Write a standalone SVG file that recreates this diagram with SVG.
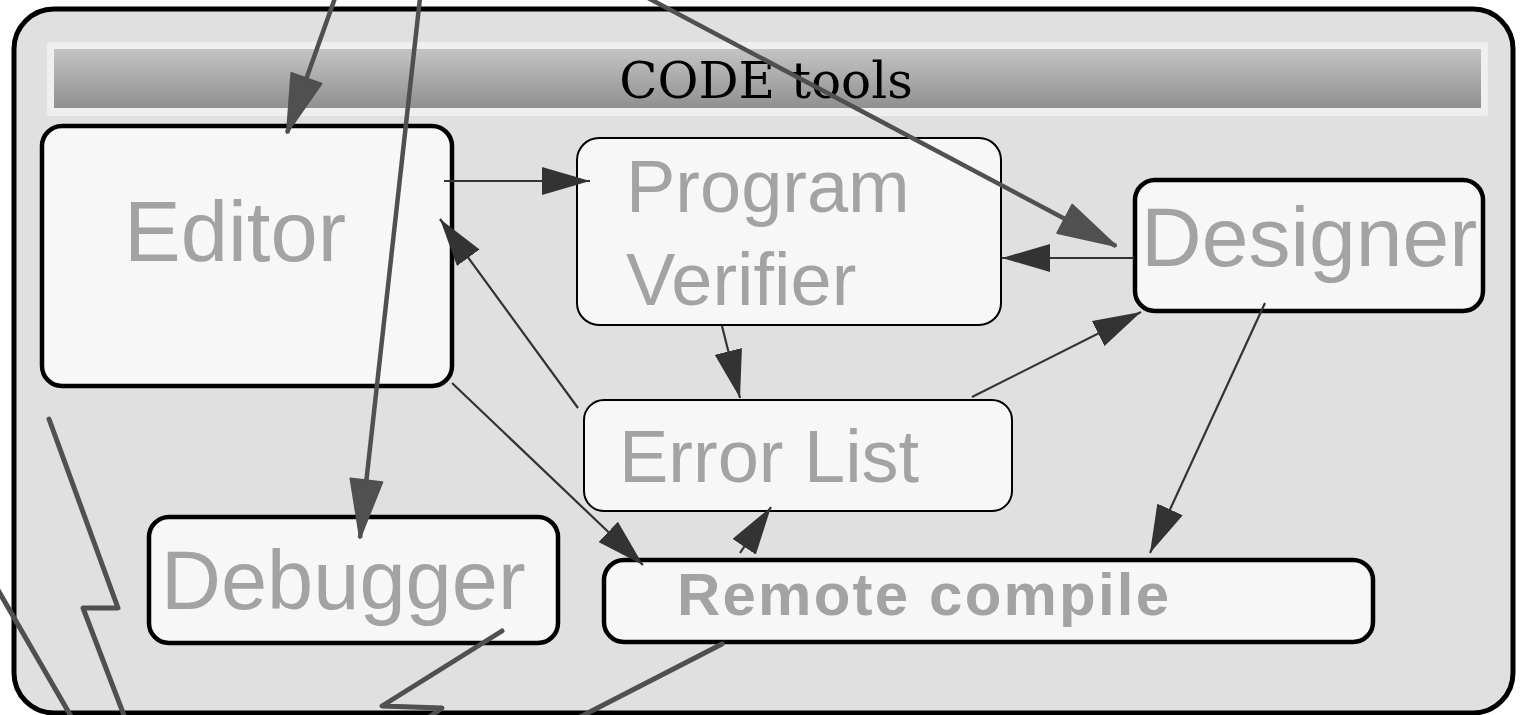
<svg xmlns="http://www.w3.org/2000/svg" width="1523" height="715" viewBox="0 0 1523 715">
<defs>
<linearGradient id="tg" x1="0" y1="0" x2="0" y2="1">
<stop offset="0" stop-color="#c4c4c4"/>
<stop offset="1" stop-color="#909090"/>
</linearGradient>
<marker id="ah" markerUnits="userSpaceOnUse" viewBox="0 0 48 28" markerWidth="48" markerHeight="28" refX="48" refY="14" orient="auto">
<path d="M0,0 L48,14 L0,28 z" fill="#333333"/>
</marker>
<marker id="ahb" markerUnits="userSpaceOnUse" viewBox="-2 -2 62 36" markerWidth="62" markerHeight="36" refX="58" refY="16" orient="auto">
<path d="M0,0 L58,16 L0,32 z" fill="#505050" stroke="#505050" stroke-width="2" stroke-linejoin="round"/>
</marker>
<style>
.node{fill:#f7f7f7;stroke:#000;}
.thick{stroke-width:4.5;}
.thin{stroke-width:2;}
.lbl{font-family:"Liberation Sans",Arial,sans-serif;fill:#a3a3a3;}
.c{stroke:#333333;stroke-width:2.2;fill:none;marker-end:url(#ah);}
.cb{stroke:#505050;stroke-width:4.5;fill:none;marker-end:url(#ahb);}
.z{stroke:#505050;stroke-width:5;fill:none;stroke-linecap:round;stroke-linejoin:round;}
</style>
</defs>
<rect x="0" y="0" width="1523" height="715" fill="#ffffff"/>
<g id="container">
<rect x="14" y="9" width="1499" height="704" rx="40" fill="#e0e0e0" stroke="#000" stroke-width="5"/>
<rect x="47" y="42" width="1441" height="74" rx="3" fill="#efefef"/>
<rect x="54" y="49" width="1427" height="59" fill="url(#tg)"/>
<text x="766" y="98" text-anchor="middle" font-family="'DejaVu Serif',serif" font-size="50" fill="#000">CODE tools</text>
</g>
<g id="editor">
<rect class="node thick" x="42" y="126" width="410" height="260" rx="20"/>
<text class="lbl" x="124" y="261" font-size="85">Editor</text>
</g>
<g id="program-verifier">
<rect class="node thin" x="577" y="138" width="424" height="187" rx="22"/>
<text class="lbl" x="626" y="212" font-size="74">Program</text>
<text class="lbl" x="626" y="305" font-size="74">Verifier</text>
</g>
<g id="designer">
<rect class="node thick" x="1135" y="180" width="348" height="131" rx="20"/>
<text class="lbl" x="1141" y="266" font-size="84">Designer</text>
</g>
<g id="error-list">
<rect class="node thin" x="584" y="400" width="428" height="111" rx="20"/>
<text class="lbl" x="619" y="482" font-size="74">Error List</text>
</g>
<g id="debugger">
<rect class="node thick" x="149" y="517" width="409" height="126" rx="20"/>
<text class="lbl" x="161" y="609" font-size="83">Debugger</text>
</g>
<g id="remote-compile">
<rect class="node thick" x="604" y="560" width="769" height="82" rx="20"/>
<text class="lbl" x="677" y="615" font-size="60" font-weight="bold" textLength="492" lengthAdjust="spacing">Remote compile</text>
</g>
<g id="connectors">
<line class="c" x1="444" y1="181" x2="590" y2="181"/>
<line class="c" x1="578" y1="408" x2="440" y2="219"/>
<line class="c" x1="1134" y1="258" x2="1002" y2="258"/>
<line class="c" x1="722" y1="326" x2="740" y2="398"/>
<line class="c" x1="972" y1="397" x2="1141" y2="312"/>
<line class="c" x1="452" y1="383" x2="643" y2="565"/>
<line class="c" x1="740" y1="553" x2="771" y2="507"/>
<line class="c" x1="1265" y1="303" x2="1150" y2="553"/>
<line class="cb" x1="335" y1="-2" x2="287" y2="133"/>
<line class="cb" x1="420" y1="-2" x2="360" y2="538"/>
<line class="cb" x1="648" y1="-2" x2="1116" y2="246"/>
<polyline class="z" points="49,419 118,608 83,608 125,718"/>
<polyline class="z" points="-2,590 72,718"/>
<polyline class="z" points="502,631 382,706 442,708 428,718"/>
<polyline class="z" points="722,644 578,718"/>
</g>
</svg>
